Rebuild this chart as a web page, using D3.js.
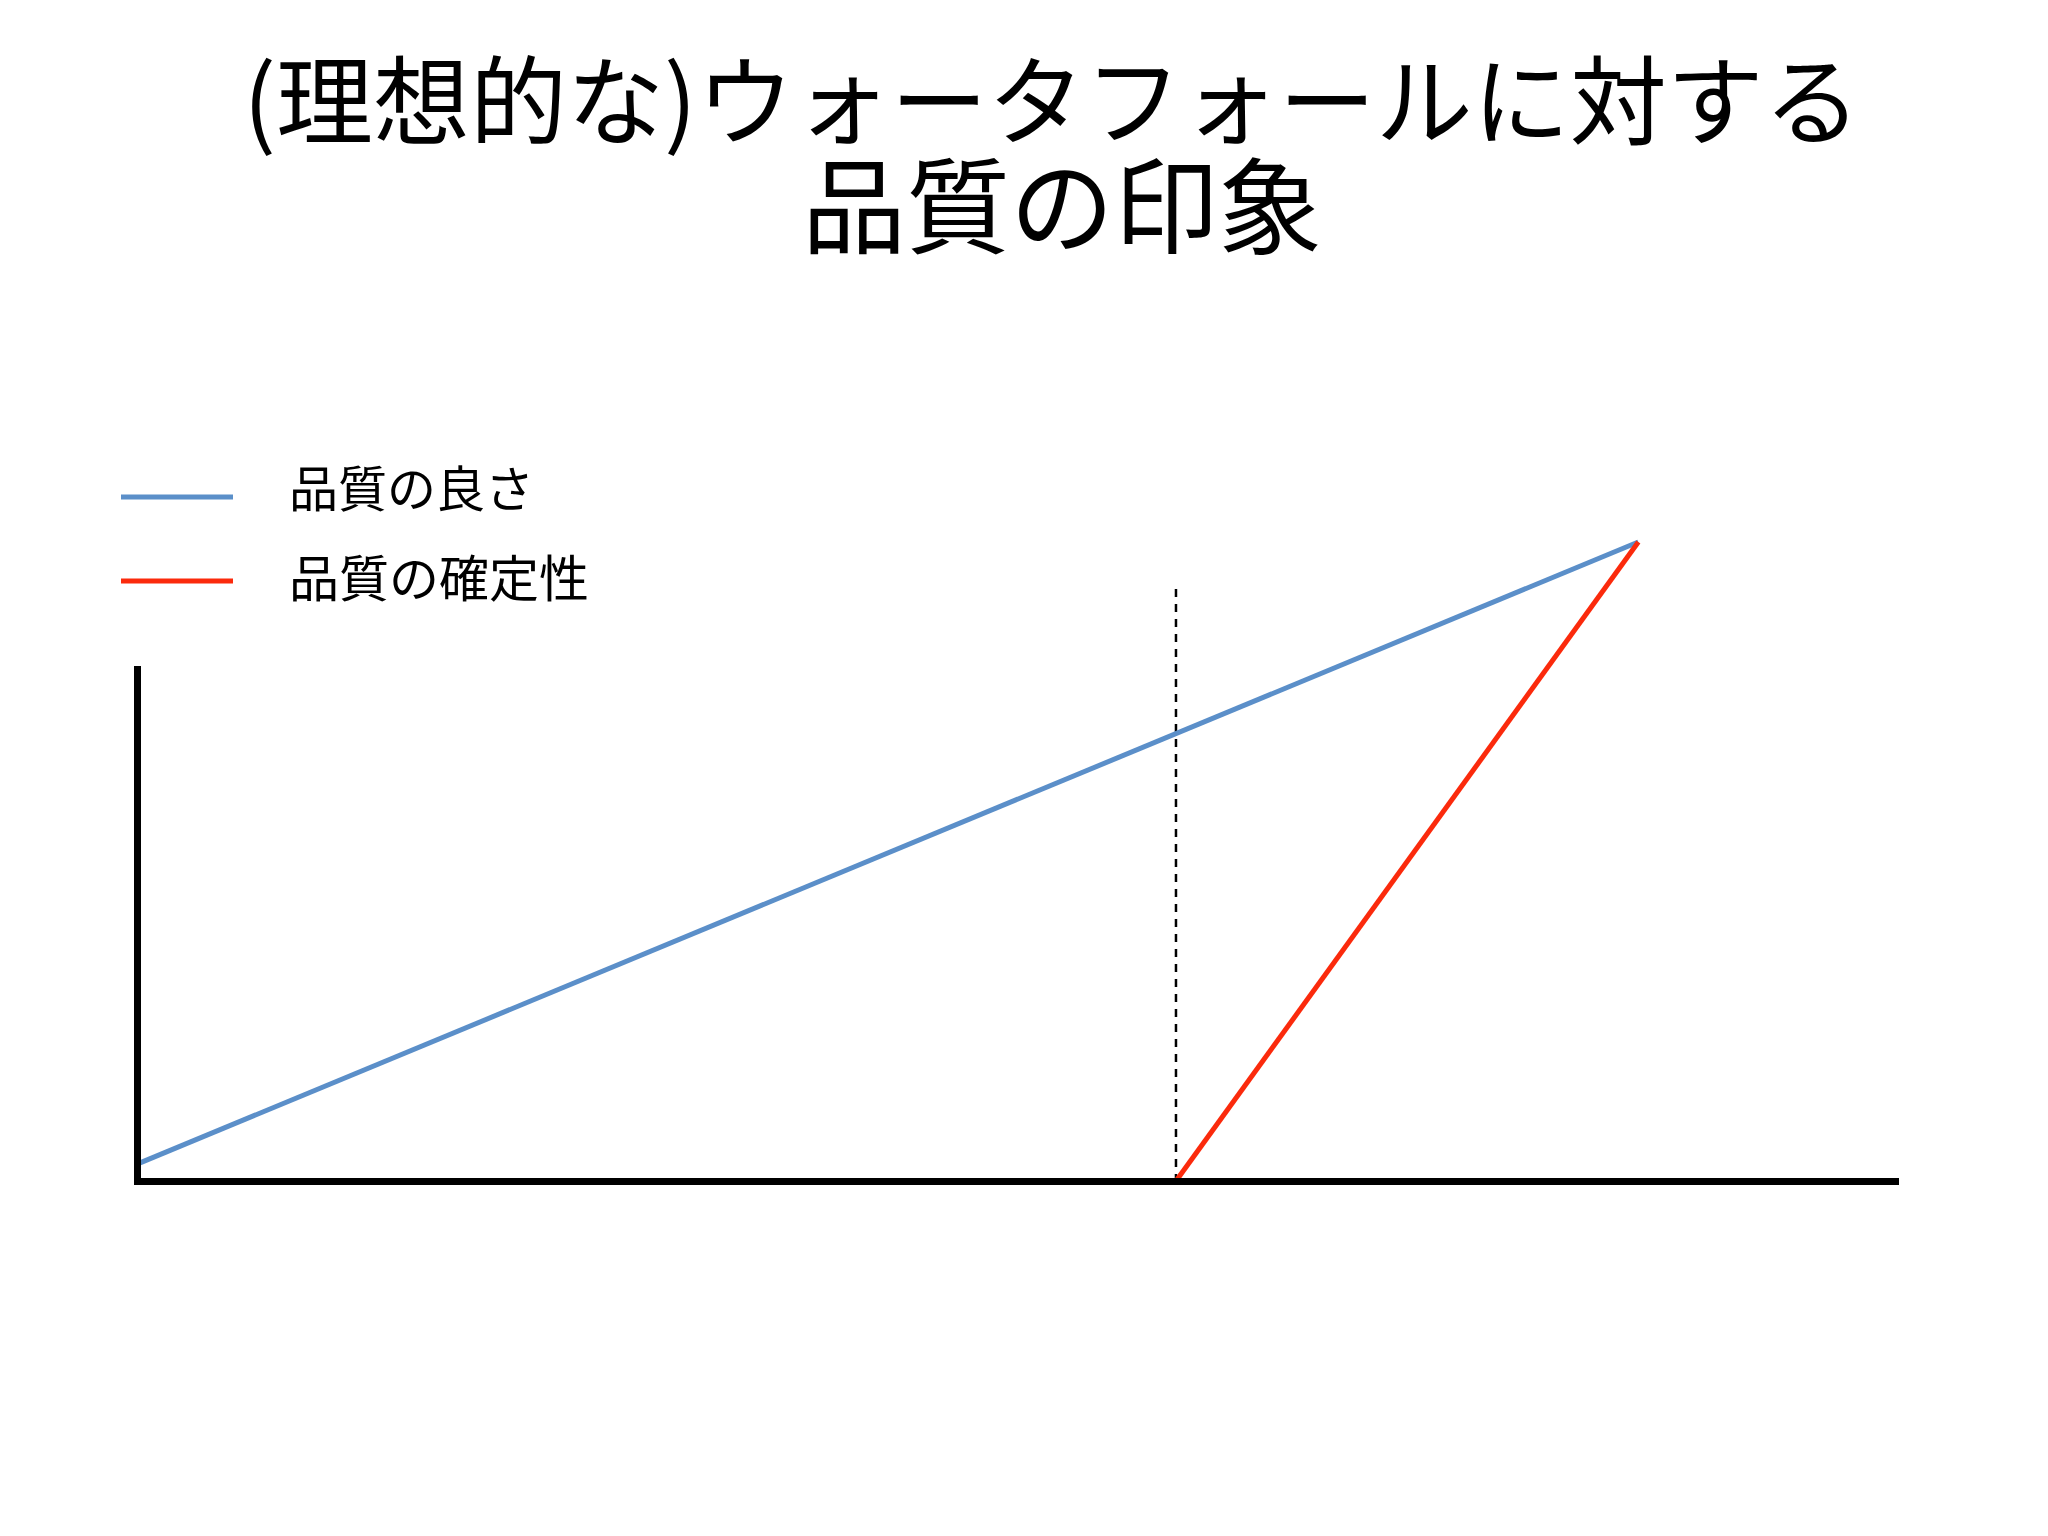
<!DOCTYPE html>
<html>
<head>
<meta charset="utf-8">
<script src="https://cdn.jsdelivr.net/npm/d3@7"></script>
<style>
  html, body { margin: 0; padding: 0; background: #fff; }
  text { font-family: "Noto Sans CJK JP", "Noto Sans", sans-serif; fill: #000; }
</style>
</head>
<body>
<div id="chart"></div>
<script>
// title lines
const titleLines = ["(理想的な)ウォータフォールに対する", "品質の印象"];

// series (x = time progress 0..100, y = level 0..100)
const seriesNames = ["品質の良さ", "品質の確定性"];
const seriesColors = ["#5b8fc9", "#fb2a0c"];
const goodnessX = [0, 85.4];
const goodnessY = [3.3, 124.8];
const certaintyX = [59.1, 85.4];
const certaintyY = [0, 124.8];
const markerX = [59.1]; // dashed line (end of testing phase)

const width = 2048;
const height = 1536;

const svg = d3.select("#chart")
  .append("svg")
  .attr("width", width)
  .attr("height", height);

const x = d3.scaleLinear().domain([0, 100]).range([137, 1895]);
const y = d3.scaleLinear().domain([0, 100]).range([1181, 669]);

// Title, one text block with a tspan per line
const titleX = [1052, 1062];
const titleY = [94, 200];
const titleSize = [97, 104];

svg.append("text")
  .attr("text-anchor", "middle")
  .selectAll("tspan")
  .data(titleLines)
  .enter()
  .append("tspan")
  .attr("x", (d, i) => titleX[i])
  .attr("y", (d, i) => titleY[i])
  .attr("dominant-baseline", "central")
  .style("font-size", (d, i) => titleSize[i] + "px")
  .text(d => d);

// dashed marker
svg.selectAll("line.marker")
  .data(markerX)
  .enter()
  .append("line")
  .attr("class", "marker")
  .attr("x1", d => x(d))
  .attr("x2", d => x(d))
  .attr("y1", 589)
  .attr("y2", y(0))
  .attr("stroke", "#000")
  .attr("stroke-width", 2.5)
  .attr("stroke-dasharray", "8,7");

// Lines
const line = d3.line().x(d => x(d[0])).y(d => y(d[1]));
const series = [
  d3.zip(goodnessX, goodnessY),
  d3.zip(certaintyX, certaintyY)
];

svg.selectAll("path.series")
  .data(series)
  .enter()
  .append("path")
  .attr("class", "series")
  .attr("d", line)
  .attr("fill", "none")
  .attr("stroke", (d, i) => seriesColors[i])
  .attr("stroke-width", 5);

// Axes (no ticks, just the heavy lines)
const xAxis = svg.append("g")
  .attr("transform", `translate(0,${y(0)})`)
  .call(d3.axisBottom(x).ticks(0).tickSizeOuter(0));
const yAxis = svg.append("g")
  .attr("transform", `translate(${x(0)},0)`)
  .call(d3.axisLeft(y).ticks(0).tickSizeOuter(0));

[xAxis, yAxis].forEach(g => {
  g.select(".domain")
    .attr("stroke", "#000")
    .attr("stroke-width", 7)
    .attr("stroke-linecap", "square");
});

// Legend
const legend = svg.append("g")
  .selectAll("g")
  .data(seriesNames)
  .enter()
  .append("g")
  .attr("transform", (d, i) => `translate(121,${497 + i * 84})`);

legend.append("line")
  .attr("x1", 0)
  .attr("x2", 112)
  .attr("stroke", (d, i) => seriesColors[i])
  .attr("stroke-width", 5);

legend.append("text")
  .attr("x", 168)
  .attr("y", (d, i) => -12 + i * 6)
  .attr("dominant-baseline", "central")
  .style("font-size", (d, i) => (i ? 50 : 49) + "px")
  .text(d => d);
</script>
</body>
</html>
